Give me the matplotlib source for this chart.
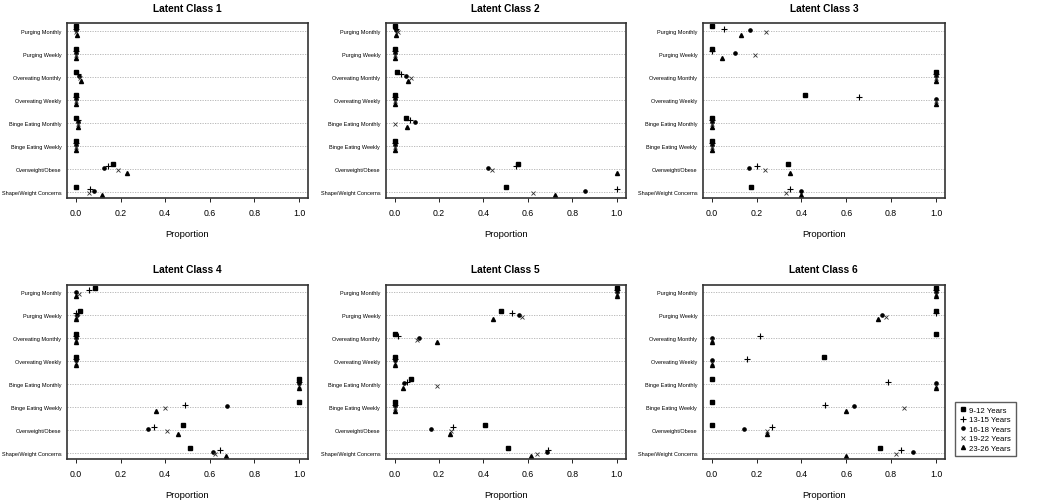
import matplotlib.pyplot as plt
import numpy as np

categories = ["Purging Monthly", "Purging Weekly", "Overeating Monthly",
              "Overeating Weekly", "Binge Eating Monthly", "Binge Eating Weekly",
              "Overweight/Obese", "Shape/Weight Concerns"]
age_groups = ["9-12 Years", "13-15 Years", "16-18 Years", "19-22 Years", "23-26 Years"]

# rows = categories (top to bottom), columns = age groups
class1 = [[0.00, 0.00, 0.00, 0.00, 0.005],
          [0.00, 0.00, 0.00, 0.00, 0.00],
          [0.00, 0.01, 0.015, 0.02, 0.022],
          [0.00, 0.00, 0.00, 0.00, 0.00],
          [0.00, 0.008, 0.01, 0.01, 0.008],
          [0.00, 0.00, 0.00, 0.00, 0.00],
          [0.164, 0.142, 0.124, 0.187, 0.228],
          [0.00, 0.064, 0.082, 0.057, 0.118]]
class2 = [[0.00, 0.005, 0.005, 0.015, 0.005],
          [0.00, 0.00, 0.00, 0.00, 0.00],
          [0.01, 0.028, 0.05, 0.072, 0.06],
          [0.00, 0.00, 0.00, 0.00, 0.00],
          [0.052, 0.069, 0.093, 0.00, 0.055],
          [0.00, 0.00, 0.00, 0.00, 0.00],
          [0.557, 0.546, 0.422, 0.44, 1.0],
          [0.501, 1.0, 0.856, 0.623, 0.722]]
class3 = [[0.00, 0.055, 0.172, 0.242, 0.131],
          [0.00, 0.003, 0.106, 0.194, 0.045],
          [1.0, 1.0, 1.0, 1.0, 1.0],
          [0.416, 0.657, 1.0, 1.0, 1.0],
          [0.00, 0.00, 0.00, 0.00, 0.00],
          [0.00, 0.00, 0.00, 0.00, 0.00],
          [0.34, 0.20, 0.167, 0.236, 0.349],
          [0.176, 0.349, 0.40, 0.333, 0.40]]
class4 = [[0.085, 0.057, 0.00, 0.015, 0.00],
          [0.02, 0.00, 0.005, 0.00, 0.00],
          [0.00, 0.00, 0.00, 0.00, 0.00],
          [0.00, 0.00, 0.00, 0.00, 0.00],
          [1.0, 1.0, 1.0, 1.0, 1.0],
          [1.0, 0.488, 0.678, 0.398, 0.361],
          [0.479, 0.352, 0.322, 0.41, 0.458],
          [0.51, 0.644, 0.614, 0.621, 0.674]]
class5 = [[1.0, 1.0, 1.0, 1.0, 1.0],
          [0.477, 0.53, 0.559, 0.575, 0.441],
          [0.00, 0.017, 0.11, 0.099, 0.189],
          [0.00, 0.00, 0.00, 0.00, 0.00],
          [0.072, 0.056, 0.042, 0.189, 0.038],
          [0.00, 0.00, 0.00, 0.00, 0.00],
          [0.405, 0.261, 0.164, 0.252, 0.249],
          [0.51, 0.69, 0.688, 0.64, 0.616]]
class6 = [[1.0, 1.0, 1.0, 1.0, 1.0],
          [1.0, 1.0, 0.76, 0.779, 0.742],
          [1.0, 0.215, 0.00, 0.00, 0.00],
          [0.499, 0.158, 0.00, 0.00, 0.00],
          [0.00, 0.785, 1.0, 1.0, 1.0],
          [0.00, 0.506, 0.634, 0.857, 0.60],
          [0.00, 0.27, 0.143, 0.245, 0.245],
          [0.749, 0.842, 0.899, 0.82, 0.597]]
classes = [class1, class2, class3, class4, class5, class6]
titles = [f"Latent Class {i}" for i in range(1, 7)]
xticks = [0.0, 0.2, 0.4, 0.6, 0.8, 1.0]

plt.rcParams['font.family'] = ['Liberation Sans', 'DejaVu Sans']

# marker style per age group (R pch 15, 3, 20, 4, 17) and small vertical offsets
styles = [dict(marker='s', ms=2.8, color='black'),
          dict(marker='+', ms=4.5, mew=0.8, color='black'),
          dict(marker='o', ms=2.3, color='black'),
          dict(marker='x', ms=3.3, mew=0.6, color='#333333'),
          dict(marker='^', ms=2.9, color='black')]
offsets = [0.2, 0.1, 0.03, -0.07, -0.17]

W, H = 1050, 502
fig = plt.figure(figsize=(W / 100, H / 100), dpi=100)
col_x = [(67, 308), (385.7, 625.7), (702.7, 945)]
row_y = [(24, 199), (285.7, 460)]

rows = np.arange(1, len(categories) + 1)
for k, (data, title) in enumerate(zip(classes, titles)):
    x0, x1 = col_x[k % 3]
    y0, y1 = row_y[k // 3]
    ax = fig.add_axes([x0 / W, 1 - y1 / H, (x1 - x0) / W, (y1 - y0) / H])
    vals = np.array(data)
    for r in rows:
        ax.axhline(r, color='#b0b0b0', lw=0.6, ls=(0, (1.5, 1.5)), zorder=0)
    for g, (st, off) in enumerate(zip(styles, offsets)):
        ax.plot(vals[:, g], rows - off, ls='none', **st)
    ax.set_xlim(-0.04, 1.04)
    ax.set_ylim(8.28, 0.66)
    ax.set_yticks(rows)
    ax.set_yticklabels(categories, fontsize=4.0)
    ax.tick_params(axis='y', length=0, pad=4)
    ax.set_xticks(xticks)
    ax.set_xticklabels([f"{t:.1f}" for t in xticks], fontsize=6.3)
    ax.tick_params(axis='x', length=3, width=0.6, pad=4)
    for s in ax.spines.values():
        s.set_linewidth(1.2)
        s.set_color('#333333')
    ax.set_xlabel("Proportion", fontsize=6.8, labelpad=9)
    ax.set_title(title, fontsize=7.3, fontweight='bold', pad=9)

handles = [plt.Line2D([], [], ls='none', **st) for st in styles]
fig.legend(handles, age_groups, loc='upper left',
           bbox_to_anchor=(955 / W, 1 - 403 / H), fontsize=5.6,
           frameon=True, fancybox=False, edgecolor='#333333',
           handlelength=0.8, handletextpad=0.4, labelspacing=0.25,
           borderpad=0.6, borderaxespad=0)

fig.savefig("out.png", dpi=100)
